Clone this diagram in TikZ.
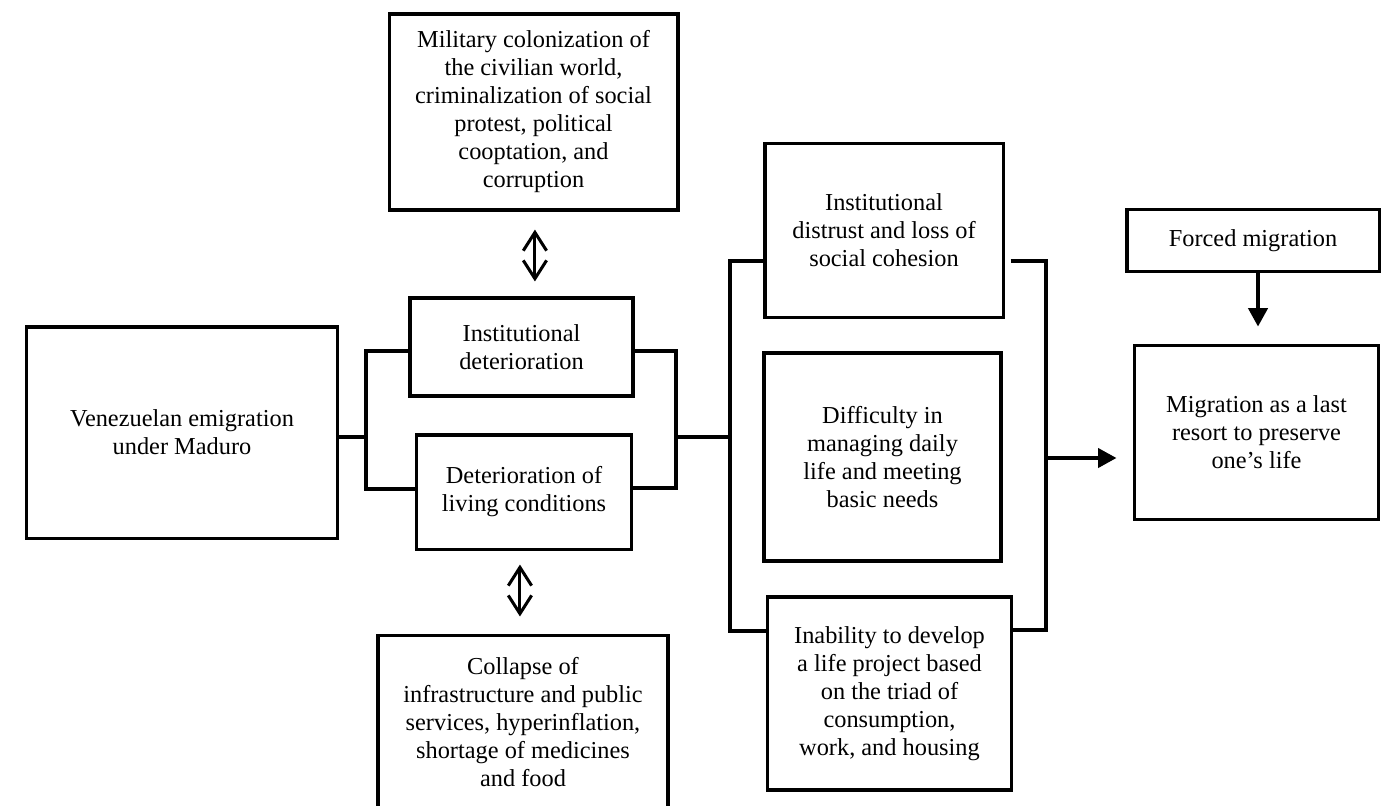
\documentclass[tikz,border=0pt]{standalone}
\usepackage{fontspec}
\setmainfont{Liberation Serif}
\usetikzlibrary{arrows.meta, positioning}

\begin{document}
\begin{tikzpicture}[
  x=0.4928pt, y=-0.4928pt,
  font=\fontsize{12}{13.8}\selectfont,
  box/.style={draw, line width=1.5pt, align=center, inner sep=0pt},
  ln/.style={line width=1.5pt},
  arr/.style={-{Triangle[length=9pt,width=9.5pt]}, line width=1.5pt},
  dbl/.style={{Straight Barb[length=9pt,width=11.5pt]}-{Straight Barb[length=9pt,width=11.5pt]}, line width=1.5pt}
]
\useasboundingbox (0,0) rectangle (1391,805);

\node[box, minimum width=152.8pt, minimum height=104pt] (ven) at (182,432.5) {Venezuelan emigration\\under Maduro};
\node[box, minimum width=142.4pt, minimum height=96.6pt] (mil) at (533.5,112) {Military colonization of\\the civilian world,\\criminalization of social\\protest, political\\cooptation, and\\corruption};
\node[box, minimum width=109.9pt, minimum height=48.3pt] (inst) at (521.5,347) {Institutional\\deterioration};
\node[box, minimum width=106.4pt, minimum height=56.2pt] (living) at (524,492) {Deterioration of\\living conditions};
\node[box, minimum width=142.9pt, minimum height=85.7pt] (collapse) at (523,722) {Collapse of\\infrastructure and public\\services, hyperinflation,\\shortage of medicines\\and food};
\node[box, minimum width=117.3pt, minimum height=85.3pt] (distrust) at (884,230.5) {Institutional\\distrust and loss of\\social cohesion};
\node[box, minimum width=116.8pt, minimum height=102.5pt] (daily) at (882.5,457) {Difficulty in\\managing daily\\life and meeting\\basic needs};
\node[box, minimum width=119.8pt, minimum height=95.1pt] (project) at (889.5,693.5) {Inability to develop\\a life project based\\on the triad of\\consumption,\\work, and housing};
\node[box, minimum width=124.2pt, minimum height=31pt] (forced) at (1253,240.5) {Forced migration};
\node[box, minimum width=119.8pt, minimum height=86.2pt] (resort) at (1256.5,432.5) {Migration as a last\\resort to preserve\\one’s life};

% bracket joints
\coordinate (lsp) at (366,437);
\coordinate (lt) at (366,351);
\coordinate (lb) at (366,489);
\coordinate (rt) at (676,351);
\coordinate (rm) at (676,437);
\coordinate (rb) at (676,488);
\coordinate (bt) at (730,261);
\coordinate (bm) at (730,437);
\coordinate (bb) at (730,631);
\coordinate (ct) at (1046,261);
\coordinate (cm) at (1046,458);
\coordinate (cb) at (1046,630);

\draw[ln] (ven.east |- lsp) -- (lsp);
\draw[ln] (inst.west |- lt) -- (lt) -- (lb) -- (living.west |- lb);
\draw[ln] (inst.east |- rt) -- (rt) -- (rb) -- (living.east |- rb);
\draw[ln] (rm) -- (bm);
\draw[ln] (distrust.west |- bt) -- (bt) -- (bb) -- (project.west |- bb);
\draw[ln] ([xshift=3pt]distrust.east |- ct) -- (ct) -- (cb) -- (project.east |- cb);
\draw[arr, shorten >=8.4pt] (cm) -- (resort.west |- cm);
\draw[arr, shorten >=8.4pt] (forced.south -| 1258,0) -- (resort.north -| 1258,0);

\draw[dbl, shorten <=8.9pt, shorten >=7.4pt] ([xshift=0.7pt]mil.south) -- ([xshift=0.7pt]mil.south |- inst.north);
\draw[dbl, shorten <=6.9pt, shorten >=8.4pt] ([xshift=-2pt]living.south) -- ([xshift=-2pt]living.south |- collapse.north);
\end{tikzpicture}
\end{document}
